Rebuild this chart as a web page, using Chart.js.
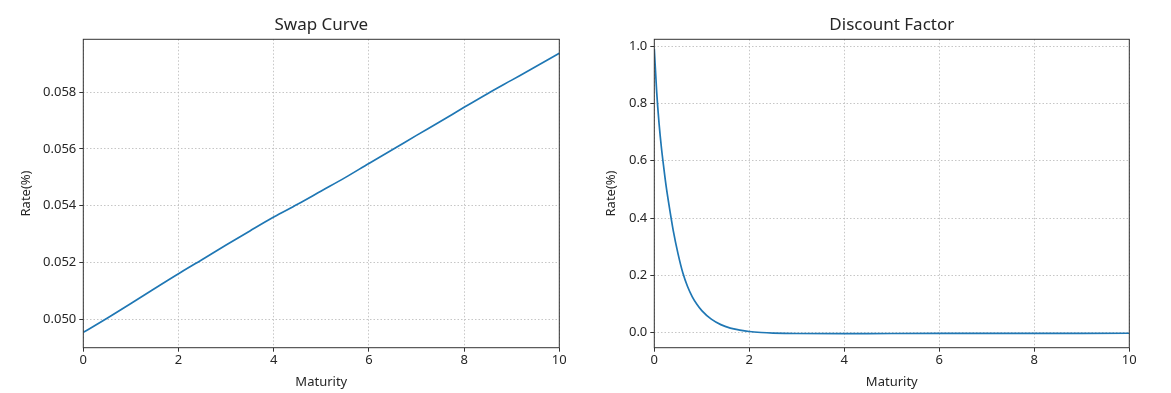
<!DOCTYPE html>
<html>
<head>
<meta charset="utf-8">
<script src="https://cdn.jsdelivr.net/npm/chart.js@4/dist/chart.umd.min.js"></script>
<style>
  html, body { margin: 0; padding: 0; background: #fff; }
  #wrap { position: relative; width: 1171px; height: 393px; overflow: hidden; }
  .box { position: absolute; top: 0; height: 393px; }
</style>
</head>
<body>
<div id="wrap">
  <div class="box" style="left:0;width:585px"><canvas id="c1" width="585" height="393"></canvas></div>
  <div class="box" style="left:585px;width:586px"><canvas id="c2" width="586" height="393"></canvas></div>
</div>
<script>
// ---- data ----
const swapMaturity = [0, 0.5, 1, 1.5, 2, 2.5, 3, 3.5, 4, 4.5, 5, 5.5, 6, 6.5, 7, 7.5, 8, 8.5, 9, 9.5, 10];
const swapRates = [0.04953, 0.05003, 0.05055, 0.05108, 0.0516, 0.0521, 0.05261, 0.05311, 0.0536, 0.05405,
                   0.05452, 0.05499, 0.05549, 0.05598, 0.05648, 0.05697, 0.05747, 0.05796, 0.05843, 0.0589, 0.05938];
const dfMaturity = [0, 0.05, 0.1, 0.15, 0.2, 0.25, 0.3, 0.4, 0.5, 0.6, 0.7, 0.8, 0.9, 1.0, 1.2, 1.4, 1.6, 1.8, 2.0,
                    2.25, 2.5, 3, 4, 5, 6, 7, 8, 9, 10];
const discountFactors = [0.99, 0.84, 0.73, 0.645, 0.575, 0.51, 0.455, 0.355, 0.275, 0.209, 0.161, 0.125, 0.098, 0.077,
                         0.047, 0.028, 0.016, 0.009, 0.004, 0.0005, -0.0015, -0.003, -0.0032, -0.003, -0.0028, -0.0026,
                         -0.0024, -0.0022, -0.002];
const xTickLabels = [0, 2, 4, 6, 8, 10];
const swapYTicks = [0.050, 0.052, 0.054, 0.056, 0.058];
const dfYTicks = [0.0, 0.2, 0.4, 0.6, 0.8, 1.0];
const titles = ['Swap Curve', 'Discount Factor'];
const xLabel = 'Maturity';
const yLabel = 'Rate(%)';

// ---- styles ----
const FONT = 'Noto Sans';
const TEXT = '#262626';
const tickFont = { family: FONT, size: 13 };

const framePlugin = {
  id: 'frame',
  afterDraw(chart, args, opts) {
    const { ctx, chartArea: a } = chart;
    ctx.save();
    ctx.strokeStyle = '#333';
    ctx.lineWidth = 1;
    ctx.strokeRect(a.left, a.top, a.right - a.left, a.bottom - a.top);
    ctx.fillStyle = TEXT;
    ctx.font = '17px "' + FONT + '"';
    ctx.textAlign = 'center';
    ctx.textBaseline = 'alphabetic';
    ctx.fillText(opts.text, (a.left + a.right) / 2, a.top - 9);
    ctx.restore();
  }
};

function makeChart(id, title, xs, ys, yTicks, yMin, yMax, yDec, yAxisW, padRight) {
  const data = xs.map((x, i) => ({ x: x, y: ys[i] }));
  return new Chart(document.getElementById(id), {
    type: 'line',
    data: { datasets: [{ data: data, borderColor: '#1f77b4', borderWidth: 1.7, pointRadius: 0,
                         cubicInterpolationMode: 'monotone', fill: false }] },
    options: {
      responsive: false, animation: false, devicePixelRatio: 1,
      layout: { padding: { top: 39.3, right: padRight, bottom: 0, left: 0 } },
      plugins: { legend: { display: false }, tooltip: { enabled: false }, frame: { text: title } },
      scales: {
        x: {
          type: 'linear', min: 0, max: 10,
          afterBuildTicks: s => { s.ticks = xTickLabels.map(v => ({ value: v })); },
          afterFit: s => { s.height = 45.3; },
          ticks: { font: tickFont, color: TEXT, padding: 1, maxRotation: 0, autoSkip: false,
                   callback: v => String(v) },
          grid: { color: '#b8b8b8', lineWidth: 0.8, drawTicks: true, tickLength: 4, tickColor: '#333',
                  tickWidth: 1, tickBorderDash: [] },
          border: { display: false, dash: [1.5, 2] },
          title: { display: true, text: xLabel, font: { family: FONT, size: 13 }, color: TEXT,
                   padding: { top: 0, bottom: 3 } }
        },
        y: {
          type: 'linear', min: yMin, max: yMax,
          afterBuildTicks: s => { s.ticks = yTicks.map(v => ({ value: v })); },
          afterFit: s => { s.width = yAxisW; },
          ticks: { font: tickFont, color: TEXT, padding: 3, autoSkip: false,
                   callback: v => Number(v).toFixed(yDec) },
          grid: { color: '#b8b8b8', lineWidth: 0.8, drawTicks: true, tickLength: 4, tickColor: '#333',
                  tickWidth: 1, tickBorderDash: [] },
          border: { display: false, dash: [1.5, 2] },
          title: { display: true, text: yLabel, font: { family: FONT, size: 13 }, color: TEXT,
                   padding: { top: 18, bottom: 18 } }
        }
      }
    },
    plugins: [framePlugin]
  });
}

makeChart('c1', titles[0], swapMaturity, swapRates, swapYTicks, 0.04899, 0.05987, 3, 83.3, 25.7);
makeChart('c2', titles[1], dfMaturity, discountFactors, dfYTicks, -0.0525, 1.0235, 1, 69.3, 41.7);
</script>
</body>
</html>
